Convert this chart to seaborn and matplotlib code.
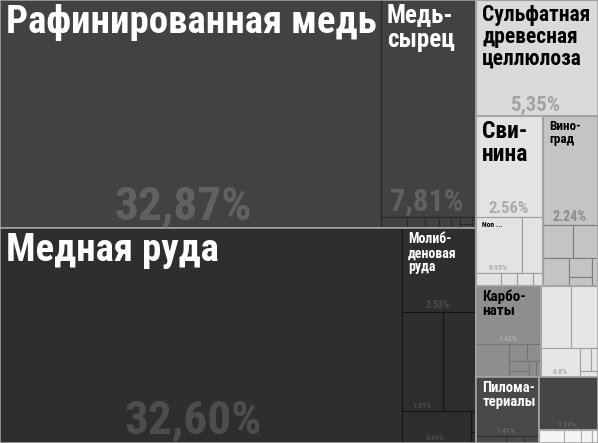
import matplotlib
matplotlib.use("Agg")
import matplotlib.pyplot as plt
import seaborn as sns
from matplotlib import font_manager
from matplotlib.patches import Rectangle
from matplotlib.colors import to_rgb

sns.set_theme(style="white")

installed = {f.name for f in font_manager.fontManager.ttflist}
narrow = [f for f in ["Liberation Sans Narrow", "Roboto Condensed", "Open Sans Condensed"] if f in installed]
FONT = narrow + ["Liberation Sans", "DejaVu Sans"]
plt.rcParams["font.family"] = FONT

# группы экспорта (доли, %), по убыванию
groups = ["Металлы", "Минеральные продукты", "Бумага", "Продукты животного происхождения",
          "Растительные продукты", "Химия", "Продукты питания", "Древесина",
          "Машины", "Прочее"]

metal_names = ["Рафинированная медь", "Медь-сырец", "", "", "", "", "", "", "", ""]
metal_values = [32.87, 7.81, 0.11, 0.08, 0.06, 0.05, 0.04, 0.03, 0.02, 0.02]
metal_pct = ["32,87%", "7,81%", "", "", "", "", "", "", "", ""]

mineral_names = ["Медная руда", "Молибденовая руда", "", "", "", "", ""]
mineral_values = [32.60, 2.33, 1.51, 1.26, 0.84, 0.04, 0.02]
mineral_pct = ["32,60%", "2.33%", "1.51%", "", "0.84%", "", ""]

paper_names = ["Сульфатная древесная целлюлоза"]
paper_values = [5.35]
paper_pct = ["5,35%"]

animal_names = ["Свинина", "Non ...", "", "", "", "", ""]
animal_values = [2.56, 0.95, 0.45, 0.12, 0.08, 0.08, 0.05]
animal_pct = ["2.56%", "0.95%", "", "", "", "", ""]

veg_names = ["Виноград", "", "", "", "", "", ""]
veg_values = [2.24, 0.37, 0.32, 0.27, 0.16, 0.08, 0.06]
veg_pct = ["2.24%", "", "", "", "", "", ""]

chem_names = ["Карбонаты", "", "", "", "", "", "", ""]
chem_values = [1.42, 0.42, 0.12, 0.09, 0.07, 0.05, 0.04, 0.03]
chem_pct = ["1.42%", "", "", "", "", "", "", ""]

food_names = ["", "", "", "", "", ""]
food_values = [0.70, 0.63, 0.44, 0.095, 0.066, 0.04]
food_pct = ["", "", "0.8%", "", "", ""]

wood_names = ["Пиломатериалы", "", "", ""]
wood_values = [1.38, 0.08, 0.05, 0.04]
wood_pct = ["1.41%", "", "", ""]

machine_names = [""]
machine_values = [1.19]
machine_pct = ["1.19%"]

other_names = ["", "", "", ""]
other_values = [0.12, 0.08, 0.05, 0.03]
other_pct = ["", "", "", ""]

group_items = [
    (metal_names, metal_values, metal_pct),
    (mineral_names, mineral_values, mineral_pct),
    (paper_names, paper_values, paper_pct),
    (animal_names, animal_values, animal_pct),
    (veg_names, veg_values, veg_pct),
    (chem_names, chem_values, chem_pct),
    (food_names, food_values, food_pct),
    (wood_names, wood_values, wood_pct),
    (machine_names, machine_values, machine_pct),
    (other_names, other_values, other_pct),
]

group_colors = ["#424242", "#2e2e2e", "#dadada", "#e3e3e3", "#c4c4c4",
                "#8e8e8e", "#e6e6e6", "#494949", "#454545", "#f4f4f4"]

# подписи: перенос слов и размеры шрифта
label_style = {
    "Рафинированная медь": ("Рафинированная медь", 28),
    "Медная руда": ("Медная руда", 28),
    "Медь-сырец": ("Медь-\nсырец", 18),
    "Сульфатная древесная целлюлоза": ("Сульфатная\nдревесная\nцеллюлоза", 15.5),
    "Свинина": ("Сви-\nнина", 17),
    "Виноград": ("Вино-\nград", 9.5),
    "Молибденовая руда": ("Молиб-\nденовая\nруда", 10),
    "Карбонаты": ("Карбо-\nнаты", 11),
    "Пиломатериалы": ("Пилома-\nтериалы", 10.5),
    "Non ...": ("Non ...", 5.5),
}
pct_size = {"Рафинированная медь": 34, "Медная руда": 34, "Медь-сырец": 22,
            "Сульфатная древесная целлюлоза": 15, "Свинина": 12, "Виноград": 10,
            "Молибденовая руда": 7}

PHI = (1 + 5 ** 0.5) / 2


def squarify(values, x0, y0, x1, y1, ratio=PHI):
    # d3.treemapSquarify
    rects = []
    n = len(values)
    value = float(sum(values))
    i0 = 0
    while i0 < n:
        dx, dy = x1 - x0, y1 - y0
        i1 = i0 + 1
        sum_v = min_v = max_v = values[i0]
        alpha = max(dy / dx, dx / dy) / (value * ratio)
        beta = sum_v * sum_v * alpha
        min_ratio = max(max_v / beta, beta / min_v)
        while i1 < n:
            v = values[i1]
            s = sum_v + v
            mn, mx = min(min_v, v), max(max_v, v)
            beta = s * s * alpha
            new_ratio = max(mx / beta, beta / mn)
            if new_ratio > min_ratio:
                break
            sum_v, min_v, max_v, min_ratio = s, mn, mx, new_ratio
            i1 += 1
        row = values[i0:i1]
        if dx < dy:
            h = dy * sum_v / value
            cx = x0
            for v in row:
                w = dx * v / sum_v
                rects.append((cx, y0, cx + w, y0 + h))
                cx += w
            y0 += h
        else:
            w = dx * sum_v / value
            cy = y0
            for v in row:
                h = dy * v / sum_v
                rects.append((x0, cy, x0 + w, cy + h))
                cy += h
            x0 += w
        value -= sum_v
        i0 = i1
    return rects


def shade(color, amount):
    r, g, b = to_rgb(color)
    f = lambda c: min(1, max(0, c + amount))
    return (f(r), f(g), f(b))


W, H = 598, 443
fig = plt.figure(figsize=(W / 100, H / 100), dpi=100)
ax = fig.add_axes([0, 0, 1, 1])
ax.set_xlim(0, W)
ax.set_ylim(H, 0)
ax.axis("off")

group_totals = [sum(v) for _, v, _ in group_items]
group_rects = squarify(group_totals, 0, 0, W, H)

for (names, values, pcts), color, grect in zip(group_items, group_colors, group_rects):
    lum = to_rgb(color)[0]
    dark = lum < 0.6
    edge = shade(color, -0.1 if dark else -0.28)
    item_rects = squarify(values, *grect)
    for name, pct, (x0, y0, x1, y1) in zip(names, pcts, item_rects):
        ax.add_patch(Rectangle((x0, y0), x1 - x0, y1 - y0, facecolor=color,
                               edgecolor=edge, lw=0.8))
        if name:
            text, size = label_style.get(name, (name, 8))
            ax.text(x0 + 6, y0 + 4, text, ha="left", va="top", fontsize=size,
                    fontweight="bold", linespacing=1.0,
                    color="white" if lum < 0.5 else "black", family=FONT)
        if pct:
            size = pct_size.get(name, 5.5)
            pcol = shade(color, 0.12) if dark else shade(color, -0.22)
            ax.text((x0 + x1) / 2 - 0.02 * (x1 - x0), y1 - 0.22 * size - 2, pct,
                    ha="center", va="baseline", fontsize=size, fontweight="bold",
                    color=pcol, family=FONT)
    gx0, gy0, gx1, gy1 = grect
    ax.add_patch(Rectangle((gx0, gy0), gx1 - gx0, gy1 - gy0, facecolor="none",
                           edgecolor="#a6a6a6", lw=1.2))

fig.savefig("out.png", dpi=100)
